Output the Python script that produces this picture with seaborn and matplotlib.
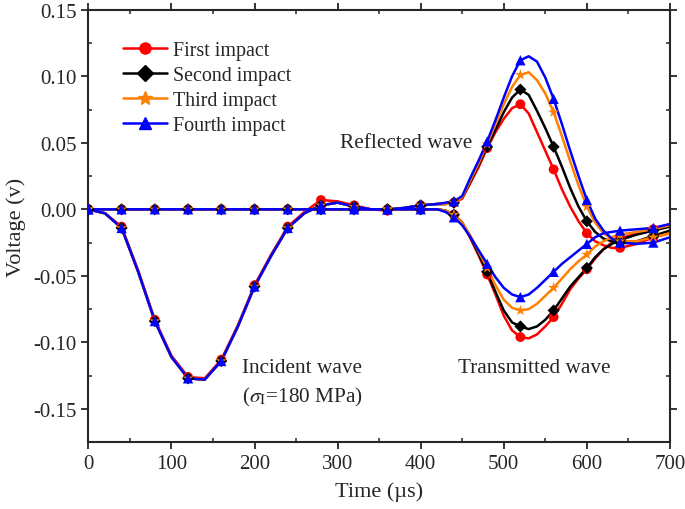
import numpy as np
import pandas as pd
import matplotlib
matplotlib.use('Agg')
import matplotlib.pyplot as plt
from matplotlib.lines import Line2D
from matplotlib.ticker import MultipleLocator
import seaborn as sns

# time grid (us): 20 us steps, 10 us steps through the pulses
time_early = [0, 20, 40, 60, 80, 100, 120, 140, 160, 180, 200, 220, 240, 260,
              280, 300, 320, 340, 360, 380, 400, 420]
time_late = [430, 440, 450, 460, 470, 480, 490, 500, 510, 520, 530, 540, 550,
             560, 570, 580, 590, 600, 610, 620, 630, 640, 660, 680, 700]

impacts = ['First impact', 'Second impact', 'Third impact', 'Fourth impact']
colors = ['#ff0000', '#000000', '#ff8000', '#0000ff']
markers = ['o', 'D', '*', '^']

# incident wave, same for all impacts (0-420 us)
incident = [0.000, -0.003, -0.014, -0.047, -0.084, -0.111, -0.127, -0.128,
            -0.114, -0.088, -0.058, -0.035, -0.014, -0.003, 0.003, 0.005,
            0.002, 0.000, 0.000, 0.001, 0.003, 0.004]
incident_first = [0.000, -0.003, -0.013, -0.046, -0.083, -0.110, -0.126, -0.127,
                  -0.113, -0.087, -0.057, -0.034, -0.013, -0.002, 0.007, 0.006,
                  0.003, 0.000, -0.001, 0.001, 0.003, 0.004]
# transmitted bar, before the pulse arrives
transmitted_flat = [0.000] * 22

# reflected wave (430-700 us)
reflected_1 = [0.004, 0.005, 0.008, 0.020, 0.032, 0.046, 0.058, 0.068, 0.076,
               0.079, 0.072, 0.058, 0.044, 0.030, 0.015, 0.002, -0.009, -0.018,
               -0.024, -0.027, -0.029, -0.029, -0.026, -0.021, -0.018]
reflected_2 = [0.004, 0.005, 0.009, 0.021, 0.034, 0.047, 0.060, 0.073, 0.084,
               0.090, 0.086, 0.074, 0.061, 0.047, 0.032, 0.016, 0.002, -0.009,
               -0.017, -0.022, -0.024, -0.025, -0.024, -0.020, -0.016]
reflected_3 = [0.004, 0.005, 0.009, 0.022, 0.035, 0.049, 0.064, 0.079, 0.092,
               0.101, 0.103, 0.097, 0.087, 0.073, 0.055, 0.036, 0.018, 0.002,
               -0.010, -0.018, -0.022, -0.024, -0.024, -0.021, -0.018]
reflected_4 = [0.005, 0.006, 0.010, 0.024, 0.037, 0.051, 0.067, 0.084, 0.100,
               0.112, 0.115, 0.111, 0.099, 0.083, 0.064, 0.044, 0.025, 0.007,
               -0.007, -0.016, -0.022, -0.025, -0.026, -0.025, -0.021]

# transmitted wave (430-700 us)
transmitted_1 = [-0.001, -0.004, -0.010, -0.022, -0.035, -0.049, -0.064, -0.080,
                 -0.091, -0.096, -0.097, -0.094, -0.088, -0.081, -0.071, -0.060,
                 -0.052, -0.045, -0.037, -0.030, -0.025, -0.022, -0.018, -0.015,
                 -0.012]
transmitted_2 = [-0.001, -0.004, -0.010, -0.021, -0.034, -0.047, -0.062, -0.076,
                 -0.085, -0.088, -0.090, -0.088, -0.083, -0.076, -0.067, -0.058,
                 -0.051, -0.044, -0.036, -0.030, -0.026, -0.023, -0.019, -0.016,
                 -0.013]
transmitted_3 = [-0.001, -0.004, -0.010, -0.020, -0.032, -0.044, -0.057, -0.068,
                 -0.074, -0.076, -0.075, -0.071, -0.065, -0.059, -0.052, -0.045,
                 -0.039, -0.034, -0.028, -0.024, -0.021, -0.019, -0.017, -0.015,
                 -0.012]
transmitted_4 = [-0.002, -0.006, -0.012, -0.021, -0.031, -0.041, -0.051, -0.059,
                 -0.064, -0.066, -0.064, -0.059, -0.053, -0.047, -0.041, -0.036,
                 -0.031, -0.026, -0.021, -0.018, -0.017, -0.016, -0.015, -0.014,
                 -0.011]

reflected = [reflected_1, reflected_2, reflected_3, reflected_4]
transmitted = [transmitted_1, transmitted_2, transmitted_3, transmitted_4]

# build long table
rows = []
time = time_early + time_late
for i, name in enumerate(impacts):
    inc = incident_first if i == 0 else incident
    for t, v in zip(time, inc + reflected[i]):
        rows.append((name, 'incident', t, v))
    for t, v in zip(time, transmitted_flat + transmitted[i]):
        rows.append((name, 'transmitted', t, v))
df = pd.DataFrame(rows, columns=['impact', 'wave', 'time', 'voltage'])
df['unit'] = df['impact'] + df['wave']

sns.set_style('ticks')
plt.rcParams['font.family'] = ['Liberation Serif', 'DejaVu Serif']
plt.rcParams['mathtext.fontset'] = 'stix'

fig = plt.figure(figsize=(6.85, 5.1), dpi=100)
ax = fig.add_axes([0.129, 0.131, 0.849, 0.848])

palette = dict(zip(impacts, colors))
sns.lineplot(data=df, x='time', y='voltage', hue='impact', units='unit',
             estimator=None, palette=palette, hue_order=impacts,
             linewidth=1.8, legend=False, sort=True, ax=ax)

# markers every 40 us
pts = df[df['time'] % 40 == 0]
sns.scatterplot(data=pts, x='time', y='voltage', hue='impact', style='impact',
                hue_order=impacts, style_order=impacts, palette=palette,
                markers=dict(zip(impacts, markers)),
                size='impact', sizes=dict(zip(impacts, [50, 38, 70, 55])),
                linewidth=0, legend=False, ax=ax, zorder=3)

ax.set_xlim(0, 700)
ax.set_ylim(-0.175, 0.15)
ax.xaxis.set_major_locator(MultipleLocator(100))
ax.xaxis.set_minor_locator(MultipleLocator(50))
ax.yaxis.set_major_locator(MultipleLocator(0.05))
ax.yaxis.set_minor_locator(MultipleLocator(0.025))
ax.yaxis.set_major_formatter(matplotlib.ticker.FormatStrFormatter('%.2f'))
ax.tick_params(which='major', direction='out', length=5, width=1.3,
               labelsize=15)
ax.tick_params(which='minor', direction='in', length=3, width=1.1)
for s in ax.spines.values():
    s.set_linewidth(1.5)
ax.tick_params(which='both', top=True, right=True)
ax.set_xlabel('Time (µs)', fontsize=16, labelpad=6)
ax.set_ylabel('Voltage (v)', fontsize=16, labelpad=5)

ax.text(303, 0.050, 'Reflected wave', fontsize=15.3, va='center')
ax.text(185, -0.119, 'Incident wave', fontsize=15.3, va='center')
ax.text(185, -0.141, r'($\sigma_{\rm I}$=180 MPa)', fontsize=15.3, va='center')
ax.text(445, -0.119, 'Transmitted wave', fontsize=15.3, va='center')

handles = [Line2D([], [], color=c, marker=m, markersize=8 if m != '*' else 10,
                  linewidth=1.8, label=n)
           for n, c, m in zip(impacts, colors, markers)]
ax.legend(handles=handles, loc='upper left', bbox_to_anchor=(0.035, 0.96),
          frameon=False, fontsize=14.4, handlelength=2.2, handletextpad=0.3,
          labelspacing=0.3, borderaxespad=0.3)

fig.savefig('out.png', dpi=100)
